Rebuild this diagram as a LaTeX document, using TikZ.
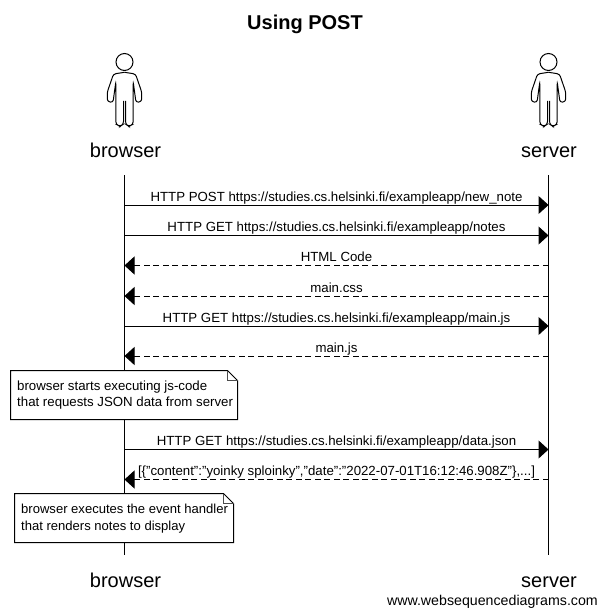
\documentclass[tikz,border=0pt]{standalone}
\usepackage{fontspec}
\setmainfont{Liberation Sans}
\usepackage{xcolor}
\usetikzlibrary{positioning,arrows.meta,calc}

\tikzset{
  msgfont/.style={font=\fontsize{13.25}{16}\selectfont},
  actorfont/.style={font=\fontsize{20}{24}\selectfont,anchor=base},
  lifeline/.style={line width=1pt},
  msgsolid/.style={line width=1pt,-{Triangle[length=10pt,width=18pt]}},
  msgdash/.style={msgsolid,dash pattern=on 6pt off 3.5pt},
  msglabel/.style={msgfont,midway,anchor=base,yshift=4pt,inner sep=0pt},
  notebox/.style={msgfont,align=left,anchor=north west,inner sep=0pt},
  person/.pic={
    \draw[line width=1pt] (0,0) circle (8.5);
    \foreach \s in {-1,1}{
      \draw[line width=1pt,xscale=\s,rounded corners=2.5pt] (0,-10.3) -- (-11,-12) -- (-17.2,-30)
        -- (-17.2,-39.5) -- (-11.5,-40.5) -- (-8.7,-20) -- (-8.7,-62) -- (-4.5,-64.5) -- (-1,-62) -- (-1,-39);
    }
  }
}
% note outline with the folded corner
\newcommand{\notefold}[4]{%
  \draw[line width=1pt,fill=white] (#1,#2) -- (#3-10,#2) -- (#3,#2-10) -- (#3,#4) -- (#1,#4) -- cycle;
  \draw[line width=0.7pt,black!70] (#3-10,#2) -- (#3-10,#2-10) -- (#3,#2-10);
}

\begin{document}
\begin{tikzpicture}[x=1pt,y=1pt]
\useasboundingbox (0,0) rectangle (606,-615);
\node[font=\bfseries\fontsize{20}{24}\selectfont] (title) at (305,-24) {Using POST};

% actors
\pic at (124.5,-62) {person};
\pic at (548.5,-62) {person};
\node[actorfont] (browsertop) at (125.5,-157) {browser};
\node[actorfont] (servertop) at (549,-157) {server};
\node[actorfont] (browserbot) at (125.5,-587) {browser};
\node[actorfont] (serverbot) at (549,-587) {server};

% lifelines
\coordinate (bstart) at (124.5,-175);
\coordinate (bend) at (124.5,-555);
\coordinate (sstart) at (548.5,-175);
\coordinate (send) at (548.5,-555);
\draw[lifeline] (bstart) -- (bend);
\draw[lifeline] (sstart) -- (send);

% messages
\foreach \n/\y in {1/205,2/235.5,3/265.5,4/296,5/326,6/356,7/449.5,8/479.5}{
  \coordinate (b\n) at (124.5,-\y);
  \coordinate (s\n) at (548.5,-\y);
}
\draw[msgsolid] (b1) -- (s1) node[msglabel] {HTTP POST https://studies.cs.helsinki.fi/exampleapp/new\_note};
\draw[msgsolid] (b2) -- (s2) node[msglabel] {HTTP GET https://studies.cs.helsinki.fi/exampleapp/notes};
\draw[msgdash] (s3) -- (b3) node[msglabel] {HTML Code};
\draw[msgdash] (s4) -- (b4) node[msglabel] {main.css};
\draw[msgsolid] (b5) -- (s5) node[msglabel] {HTTP GET https://studies.cs.helsinki.fi/exampleapp/main.js};
\draw[msgdash] (s6) -- (b6) node[msglabel] {main.js};
\draw[msgsolid] (b7) -- (s7) node[msglabel] {HTTP GET https://studies.cs.helsinki.fi/exampleapp/data.json};
\draw[msgdash] (s8) -- (b8) node[msglabel] {[\{"content":"yoinky sploinky","date":"2022-07-01T16:12:46.908Z"\},...]};

% notes
\notefold{10.5}{-370.5}{237.5}{-419.5}
\node[notebox] (note1) at (17,-381) {browser starts executing js-code\\that requests JSON data from server};
\notefold{14.5}{-493.5}{233.5}{-542.5}
\node[notebox,font=\fontsize{13.05}{16.4}\selectfont] (note2) at (21,-504) {browser executes the event handler\\that renders notes to display};

\node[anchor=base east,inner sep=0pt,font=\fontsize{14.2}{17}\selectfont] (credit) at (598,-605) {www.websequencediagrams.com};
\end{tikzpicture}
\end{document}
